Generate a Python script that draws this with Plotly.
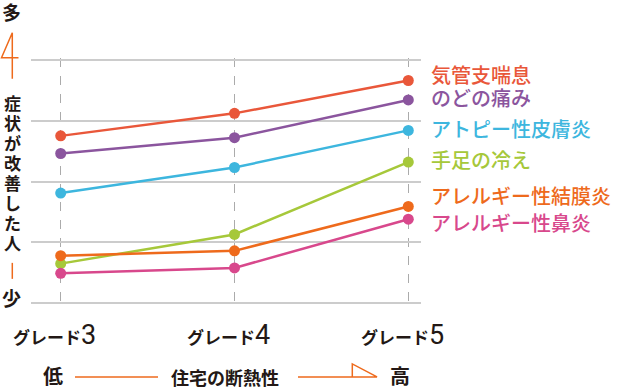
import plotly.graph_objects as go

grades = ["グレード3", "グレード4", "グレード5"]
grade_nums = ["3", "4", "5"]
series_names = ["気管支喘息", "のどの痛み", "アトピー性皮膚炎", "手足の冷え", "アレルギー性結膜炎", "アレルギー性鼻炎"]
kikanshi = [2.75, 3.12, 3.66]
nodo = [2.46, 2.72, 3.34]
atopy = [1.81, 2.23, 2.84]
teashi = [0.65, 1.13, 2.32]
ketsumaku = [0.78, 0.86, 1.59]
bien = [0.49, 0.58, 1.38]
series_values = [kikanshi, nodo, atopy, teashi, ketsumaku, bien]
colors = ["#E9573A", "#8B559E", "#3DB6DE", "#A6C83A", "#EE6A1C", "#D8488C"]
label_y_px = [75, 98, 129, 160, 196, 223]

W, H = 621, 389
# pixel geometry of value axis: 0 at 303.3, 4 at 60
Y0, Y4 = 303.3, 60.0
UNIT = (Y0 - Y4) / 4
YMIN, YMAX = -0.03, 4.03
T = Y4 - (YMAX - 4) * UNIT
PB = Y0 + (0 - YMIN) * UNIT
B = H - PB
L, RPX = 31, 421
R = W - RPX
PW, PH = RPX - L, PB - T
XU = 173.8
X0 = 60.7

def px(x):
    return (x - L) / PW

def py(y):
    return (PB - y) / PH

FONT = "Noto Sans CJK JP"
ORANGE = "#EE6A1C"
DARK = "#231815"

fig = go.Figure()
xs = [0, 1, 2]
for name, vals, c in zip(series_names, series_values, colors):
    fig.add_trace(go.Scatter(
        x=xs, y=vals, mode="lines+markers", name=name,
        line=dict(color=c, width=2.5),
        marker=dict(color=c, size=11),
        showlegend=False, hoverinfo="skip",
    ))

ann = []
for name, c, yp in zip(series_names, colors, label_y_px):
    ann.append(dict(x=px(429), y=py(yp), xref="paper", yref="paper",
                    text=name, showarrow=False, xanchor="left", yanchor="middle",
                    font=dict(family=FONT, size=20, color=c, weight=500)))

for i, (g, n) in enumerate(zip(grades, grade_nums)):
    ann.append(dict(x=i, y=py(335), xref="x", yref="paper",
                    text=g.replace(n, "") + "<span style='font-size:27px;font-family:Roboto;font-weight:normal'>" + n + "</span>",
                    showarrow=False, xanchor="center", yanchor="middle",
                    xshift=-6,
                    font=dict(family=FONT, size=17, color=DARK, weight=700)))

ann.append(dict(x=px(11), y=py(12), xref="paper", yref="paper", text="多", showarrow=False,
                xanchor="center", yanchor="middle", font=dict(family=FONT, size=19, color=DARK, weight=700)))
ann.append(dict(x=px(11), y=py(298), xref="paper", yref="paper", text="少", showarrow=False,
                xanchor="center", yanchor="middle", font=dict(family=FONT, size=19, color=DARK, weight=700)))
vert = "症状が改善した人"
for i, ch in enumerate(vert):
    ann.append(dict(x=px(12), y=py(102.5 + 20 * i), xref="paper", yref="paper", text=ch,
                    showarrow=False, xanchor="center", yanchor="middle",
                    font=dict(family=FONT, size=17, color=DARK, weight=700)))

ann.append(dict(x=px(53), y=py(376), xref="paper", yref="paper", text="低", showarrow=False,
                xanchor="center", yanchor="middle", font=dict(family=FONT, size=20, color=DARK, weight=700)))
ann.append(dict(x=px(225), y=py(377), xref="paper", yref="paper", text="住宅の断熱性", showarrow=False,
                xanchor="center", yanchor="middle", font=dict(family=FONT, size=18, color=DARK, weight=700)))
ann.append(dict(x=px(400), y=py(376), xref="paper", yref="paper", text="高", showarrow=False,
                xanchor="center", yanchor="middle", font=dict(family=FONT, size=20, color=DARK, weight=700)))

def path(points):
    return "M " + " L ".join(f"{px(a):.5f},{py(b):.5f}" for a, b in points)

shapes = [
    dict(type="path", xref="paper", yref="paper",
         path=path([(12.3, 79), (12.3, 33), (1.5, 58), (18.5, 58)]),
         line=dict(color=ORANGE, width=1.5)),
    dict(type="path", xref="paper", yref="paper",
         path=path([(12.3, 263), (12.3, 279)]),
         line=dict(color=ORANGE, width=1.5)),
    dict(type="path", xref="paper", yref="paper",
         path=path([(75, 377), (158, 377)]),
         line=dict(color=ORANGE, width=1.5)),
    dict(type="path", xref="paper", yref="paper",
         path=path([(298, 377), (377, 377), (352.3, 364), (352.3, 377)]),
         line=dict(color=ORANGE, width=1.5)),
]

fig.update_layout(
    width=W, height=H,
    margin=dict(l=L, r=R, t=T, b=B, pad=0),
    paper_bgcolor="white", plot_bgcolor="white",
    annotations=ann, shapes=shapes, hovermode=False,
    xaxis=dict(range=[(L - X0) / XU, (RPX - X0) / XU], showgrid=True,
               gridcolor="#ABABAB", gridwidth=1, griddash="dash",
               tickvals=xs, showticklabels=False, zeroline=False, showline=False, ticks=""),
    yaxis=dict(range=[YMIN, YMAX], tickvals=[0, 1, 2, 3, 4], showgrid=True, gridcolor="#CCCCCC", gridwidth=2,
               showticklabels=False, zeroline=False, showline=False, ticks=""),
)

fig.write_html("out.html", config={"displayModeBar": False, "staticPlot": True},
               post_script="document.body.style.margin='0';document.body.style.padding='0';")
